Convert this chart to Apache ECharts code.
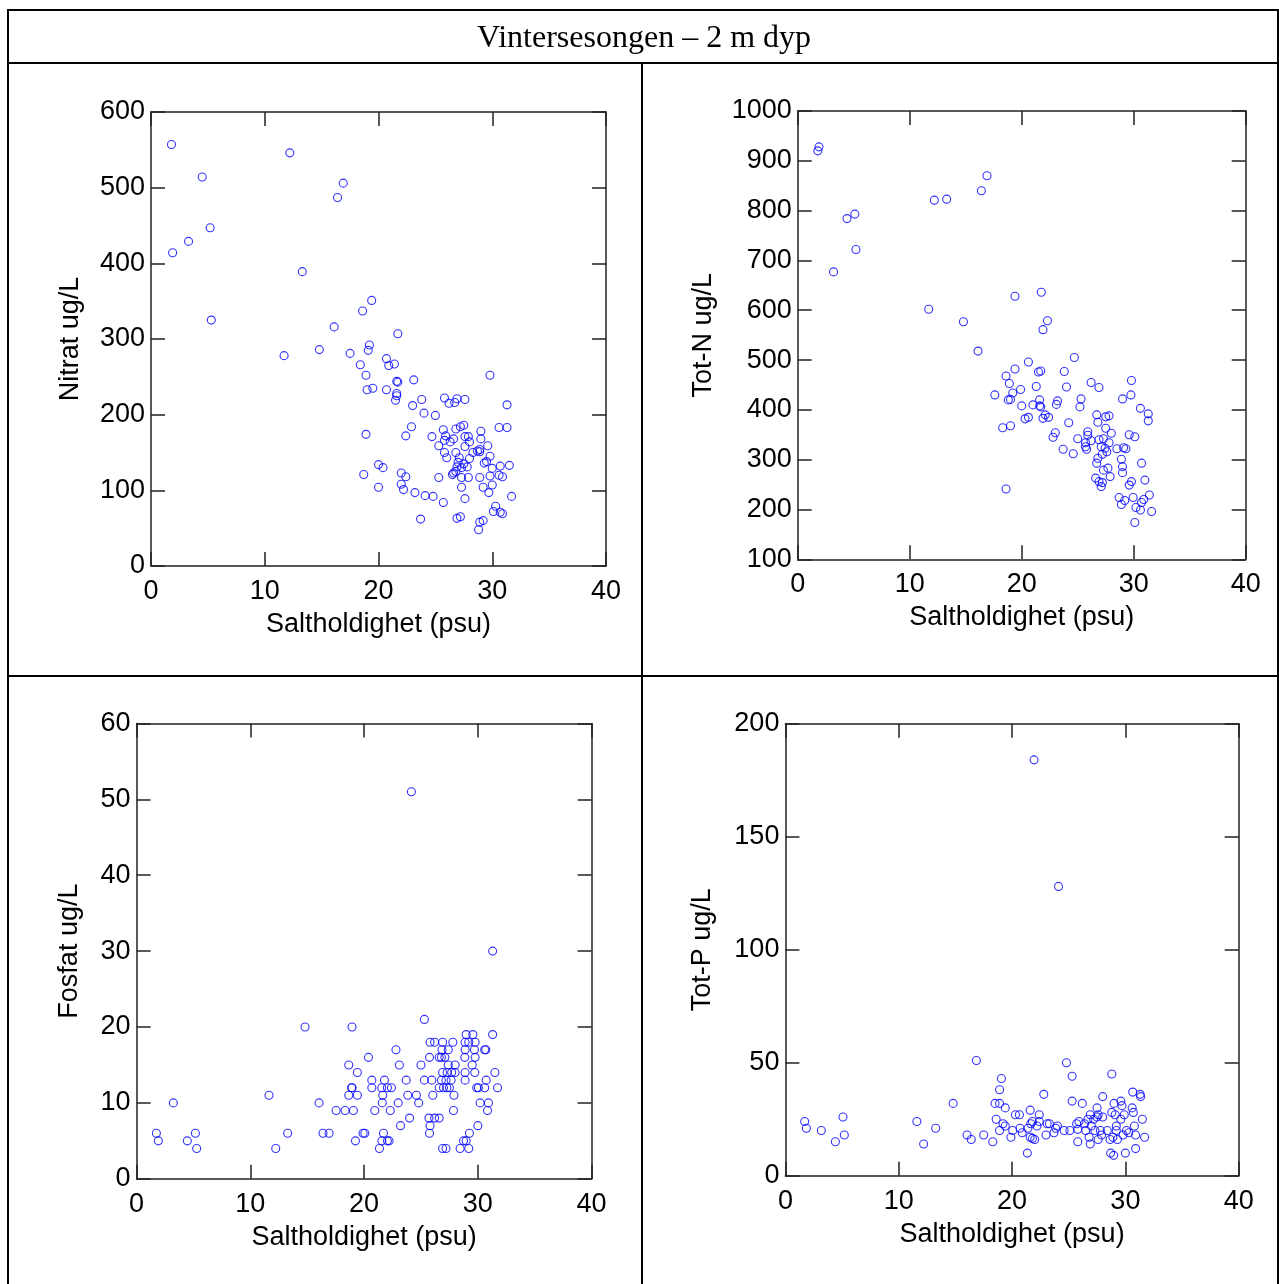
<!DOCTYPE html>
<html>
<head>
<meta charset="utf-8">
<script src="https://cdn.jsdelivr.net/npm/echarts@6/dist/echarts.min.js"></script>
<style>
html,body{margin:0;padding:0;background:#fff;}
#chart{width:1279px;height:1284px;}
</style>
</head>
<body>
<div id="chart"></div>
<script>
// ---------- DATA ----------
const titleText = 'Vintersesongen \u2013 2 m dyp';
const xName = 'Saltholdighet (psu)';
const yNames = ['Nitrat ug/L', 'Tot-N ug/L', 'Fosfat ug/L', 'Tot-P ug/L'];

const nitratSal = [1.8,4.5,12.2,16.9,16.4,5.2,3.3,1.9,13.3,19.4,18.6,5.3,16.1,21.7,
11.7,14.8,17.5,19.2,19.1,18.4,20.7,20.9,21.4,29.8,18.9,21.7,21.6,23.1,19.0,19.5,20.7,21.6,21.6,21.5,23.0,23.8,24.0,25.0,25.8,26.2,26.7,26.9,27.6,31.3,30.6,31.3,22.9,22.4,18.9,24.7,25.7,25.9,25.8,26.3,26.6,26.8,27.2,27.5,27.6,27.9,28.0,27.6,25.3,26.8,25.8,26.0,27.1,28.0,27.0,27.5,26.9,27.8,27.3,26.6,26.8,26.5,27.3,27.9,25.3,27.3,27.6,25.7,24.8,24.1,23.2,23.7,26.9,27.2,28.8,28.9,29.2,30.1,30.3,30.7,30.9,31.7,30.0,29.7,29.2,28.9,29.8,30.0,30.7,30.6,30.9,31.5,29.3,29.5,29.8,28.9,28.9,28.7,29.6,28.3,29.0,29.0,18.7,20.0,20.0,20.4,22.0,22.4,22.0,22.2];
const nitratVal = [557,514,546,506,487,447,429,414,389,351,337,325,316,307,
278,286,281,292,285,266,274,265,267,252,252,243,244,246,233,235,233,228,225,219,212,220,202,199,222,215,216,221,220,213,183,183,184,172,174,171,180,172,166,164,168,181,184,186,171,171,164,158,159,150,150,143,143,142,137,135,131,131,130,123,125,121,117,117,117,104,89,84,92,93,97,62,63,65,48,58,60,72,79,71,69,92,107,97,104,117,119,129,132,120,118,133,136,138,145,154,151,152,159,150,178,168,121,104,134,130,123,118,108,101];

const totNSal = [1.9,1.8,5.1,4.4,5.2,3.2,12.2,13.3,16.9,16.4,11.7,19.4,21.75,14.8,16.1,21.9,22.3,
24.7,20.6,19.4,18.6,18.9,17.6,19.2,19.0,18.8,19.9,21.3,21.5,21.7,23.8,24.0,26.2,26.9,29.8,29.75,29.0,25.3,25.2,30.6,31.3,31.3,20.0,21.0,21.6,21.6,21.7,23.1,23.2,20.3,20.6,21.9,22.1,22.4,18.3,19.0,24.2,23.0,22.8,18.6,23.7,24.6,25.0,25.9,25.9,25.7,25.7,25.8,26.2,26.7,26.8,27.5,27.5,27.8,28.0,26.9,27.3,27.8,27.1,27.45,27.6,27.2,26.8,26.7,27.3,27.7,27.9,26.6,26.9,27.1,27.2,28.5,29.1,29.3,28.9,29.0,29.0,29.6,30.1,29.6,29.8,30.7,31.0,28.7,28.9,29.2,29.95,30.2,30.6,30.7,30.9,31.4,31.6,30.1];
const totNVal = [928,920,793,784,722,677,821,823,870,840,602,628,636,577,518,561,579,
505,496,482,468,453,430,434,421,420,441,447,476,478,477,446,455,445,459,430,422,422,406,403,392,378,408,410,420,408,406,411,418,382,385,383,390,385,364,368,374,354,345,241,321,312,342,356,349,334,326,321,338,390,375,363,386,388,353,340,342,334,326,323,316,311,303,293,279,283,266,263,256,246,254,322,324,322,301,286,274,350,346,249,256,293,259,224,210,218,224,204,199,214,220,229,196,174];

const fosfatSal = [1.74,1.91,3.23,4.46,5.17,5.28,11.64,12.23,13.28,14.81,16.04,16.39,16.92,17.54,18.33,18.94,19.06,18.65,19.41,18.9,18.95,18.65,19.41,19.24,19.91,20.06,20.38,20.68,20.68,20.94,21.79,21.55,22.05,22.4,21.64,21.6,22.3,21.7,21.56,22.05,22.2,21.35,22.8,23.1,23.0,23.2,23.7,23.84,24.0,24.6,24.8,25.0,25.3,25.3,25.75,25.8,26.2,25.95,26.04,25.7,26.2,26.6,25.8,25.75,26.9,26.85,27.4,27.8,26.6,26.8,27.1,27.4,28.0,26.9,27.3,27.7,28.0,26.8,27.2,27.65,26.6,26.98,27.27,27.5,27.9,27.86,26.9,27.2,28.97,29.56,28.88,29.2,29.76,28.88,29.7,28.85,29.76,29.5,28.88,29.73,28.88,30.6,30.7,31.3,31.5,30.73,29.9,30.05,30.6,31.73,30.2,30.93,30.85,30.0,29.26,28.74,28.97,28.44,29.2,24.16,31.3];
const fosfatVal = [6,5,10,5,6,4,11,4,6,20,10,6,6,9,9,20,9,15,14,12,12,11,11,5,6,6,16,13,12,9,13,12,12,12,11,10,9,6,5,5,5,4,17,15,10,7,13,11,8,11,10,15,21,13,16,18,18,13,11,8,8,8,7,6,18,17,17,18,16,16,16,15,15,14,14,14,14,13,13,13,12,12,12,12,11,9,4,4,19,19,18,18,18,17,17,16,16,15,14,14,13,17,17,19,14,13,12,12,12,12,10,10,9,7,6,5,5,4,4,51,30];

const totPSal = [21.94,24.1,1.7,1.85,3.17,4.41,5.08,5.2,11.6,12.2,13.26,14.8,16.03,16.4,16.85,17.5,18.3,18.6,18.5,18.9,18.9,19.06,19.4,18.9,19.2,19.4,19.9,20.06,20.3,20.65,20.7,20.9,21.35,21.4,21.6,21.65,21.8,21.6,21.8,22.0,22.2,22.4,22.4,22.8,23.0,23.1,23.3,23.7,23.85,24.0,24.6,24.8,25.1,25.3,25.3,25.8,25.7,25.9,25.8,26.2,26.4,26.5,26.7,26.9,26.9,26.8,27.0,27.2,27.3,27.5,27.5,27.6,27.6,27.8,27.9,28.0,28.0,28.4,28.65,28.8,28.8,28.7,28.97,28.9,29.0,29.1,29.2,29.2,29.3,29.6,29.6,29.7,29.8,29.9,30.0,30.1,30.3,30.6,30.65,30.7,30.8,30.9,30.9,31.3,31.35,31.5,31.7];
const totPVal = [184,128,24,21,20,15,26,18,24,14,21,32,18,16,51,18,15,25,32,32,38,43,30,20,23,22,17,20,27,27,21,19,10,21,29,23,24,17,16.5,16,22,27,24,36,18,23,23,19,21,22,20,50,20,44,33,15,23,24,20.5,32,23,20,25,27,14,17,22,25,20,30,26,27,16,20,18,35,26,20,16,45,28,10,9,17,32,27,22,20,16,33,25,31,18,27,10,20,19,30,37,28,22,12,18,36,35,25,17];

// ---------- LAYOUT ----------
const FONT = 'Liberation Sans';
const FS = 27;
const grids = [
  {left:151, top:112, width:455, height:454},
  {left:797.7, top:111, width:448, height:448.3},
  {left:136.6, top:723.4, width:455, height:455.4},
  {left:785.4, top:723.7, width:453.3, height:452}
];
const yRanges = [
  {min:0, max:600, interval:100, gap:67},
  {min:100, max:1000, interval:100, gap:81},
  {min:0, max:60, interval:10, gap:54},
  {min:0, max:200, interval:50, gap:69}
];
const seriesData = [
  [nitratSal, nitratVal],
  [totNSal, totNVal],
  [fosfatSal, fosfatVal],
  [totPSal, totPVal]
];

const lineStyle = {color:'#222', width:1.5};
const xAxes = [], yAxes = [], series = [];
grids.forEach((g, i) => {
  const common = {
    gridIndex:i, type:'value', splitLine:{show:false},
    axisLine:{show:true, onZero:false, lineStyle:lineStyle},
    axisTick:{show:true, inside:true, length:14, lineStyle:lineStyle}
  };
  xAxes.push(Object.assign({}, common, {
    position:'bottom', min:0, max:40, interval:10,
    name:xName, nameLocation:'middle', nameGap:45,
    nameTextStyle:{fontSize:FS, color:'#000', fontFamily:FONT},
    axisLabel:{fontSize:FS, color:'#000', fontFamily:FONT, margin:12, showMinLabel:true, showMaxLabel:true,
               formatter: v => String(v)}
  }));
  xAxes.push(Object.assign({}, common, {
    position:'top', min:0, max:40, interval:10, axisLabel:{show:false}
  }));
  const yr = yRanges[i];
  yAxes.push(Object.assign({}, common, {
    position:'left', min:yr.min, max:yr.max, interval:yr.interval,
    name:yNames[i], nameLocation:'middle', nameGap:yr.gap,
    nameTextStyle:{fontSize:FS, color:'#000', fontFamily:FONT},
    axisLabel:{fontSize:FS, color:'#000', fontFamily:FONT, margin:6, showMinLabel:true, showMaxLabel:true,
               padding:[3,0,0,0], formatter: v => String(v)}
  }));
  yAxes.push(Object.assign({}, common, {
    position:'right', min:yr.min, max:yr.max, interval:yr.interval, axisLabel:{show:false}
  }));
  const [xs, ys] = seriesData[i];
  series.push({
    type:'scatter', xAxisIndex:2*i, yAxisIndex:2*i,
    data: xs.map((x, k) => [x, ys[k]]),
    symbol:'circle', symbolSize:8,
    itemStyle:{color:'rgba(0,0,0,0)', borderColor:'#0000ff', borderWidth:1.1},
    emphasis:{disabled:true}, silent:true
  });
});

const chart = echarts.init(document.getElementById('chart'), null, {renderer:'canvas'});
chart.setOption({
  animation:false,
  backgroundColor:'#fff',
  grid: grids.map(g => Object.assign({containLabel:false}, g)),
  xAxis: xAxes,
  yAxis: yAxes,
  series: series,
  graphic: [
    {type:'rect', shape:{x:8, y:10, width:1270, height:1290}, style:{fill:null, stroke:'#000', lineWidth:2}, silent:true},
    {type:'line', shape:{x1:8, y1:63, x2:1278, y2:63}, style:{stroke:'#000', lineWidth:2}, silent:true},
    {type:'line', shape:{x1:642, y1:63, x2:642, y2:1290}, style:{stroke:'#000', lineWidth:2}, silent:true},
    {type:'line', shape:{x1:8, y1:676, x2:1278, y2:676}, style:{stroke:'#000', lineWidth:2}, silent:true},
    {type:'text', x:644, y:39, style:{text:titleText, fontFamily:'Liberation Serif', fontSize:32, fill:'#000', textAlign:'center', textVerticalAlign:'middle'}, silent:true}
  ]
});
</script>
</body>
</html>
